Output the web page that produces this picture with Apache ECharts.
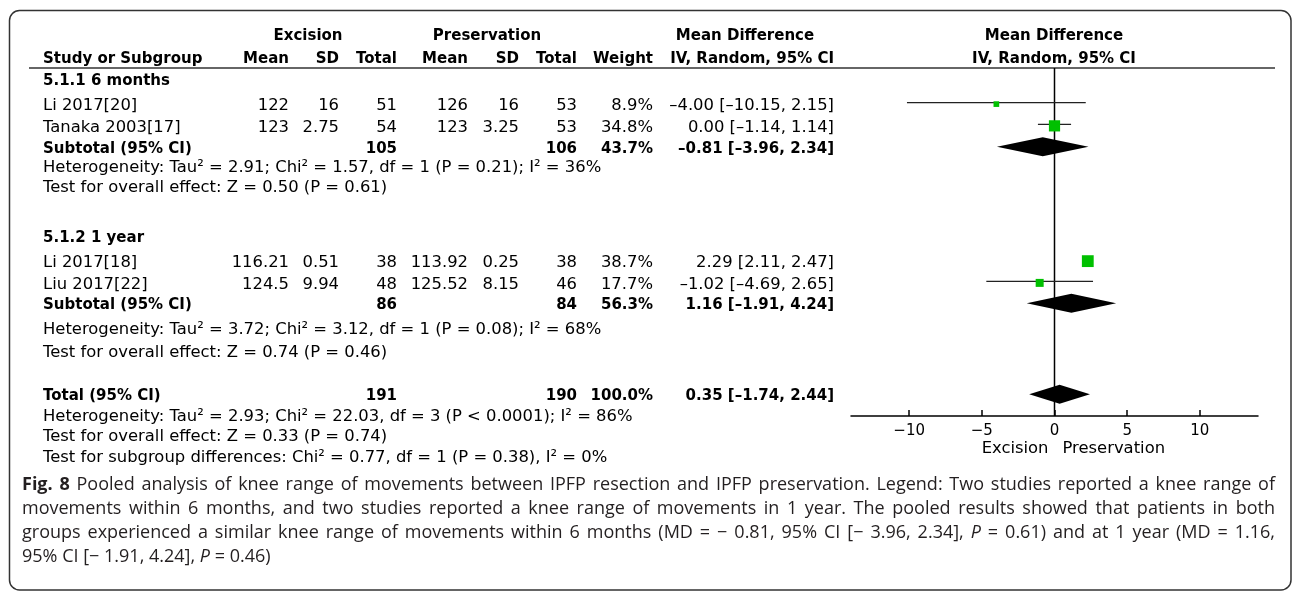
<!DOCTYPE html>
<html><head><meta charset="utf-8">
<script src="https://cdn.jsdelivr.net/npm/echarts@6/dist/echarts.min.js"></script>
<style>html,body{margin:0;padding:0;background:#fff}#c{width:1292px;height:594px}</style>
</head><body><div id="c"></div>
<script>
// ---------------- DATA ----------------
const groupTitles = ['5.1.1 6 months', '5.1.2 1 year'];
const studyNames  = ['Li 2017[20]', 'Tanaka 2003[17]', 'Li 2017[18]', 'Liu 2017[22]'];
const studyGroup  = [0, 0, 1, 1];
const excMean = [122, 123, 116.21, 124.5];
const excSD   = [16, 2.75, 0.51, 9.94];
const excN    = [51, 54, 38, 48];
const preMean = [126, 123, 113.92, 125.52];
const preSD   = [16, 3.25, 0.25, 8.15];
const preN    = [53, 53, 38, 46];
const weight  = [8.9, 34.8, 38.7, 17.7];
const md      = [-4.00, 0.00, 2.29, -1.02];
const ciLow   = [-10.15, -1.14, 2.11, -4.69];
const ciHigh  = [2.15, 1.14, 2.47, 2.65];

const subExcN   = [105, 86];
const subPreN   = [106, 84];
const subWeight = [43.7, 56.3];
const subMd     = [-0.81, 1.16];
const subLow    = [-3.96, -1.91];
const subHigh   = [2.34, 4.24];
const subHet  = ['Heterogeneity: Tau² = 2.91; Chi² = 1.57, df = 1 (P = 0.21); I² = 36%',
                 'Heterogeneity: Tau² = 3.72; Chi² = 3.12, df = 1 (P = 0.08); I² = 68%'];
const subTest = ['Test for overall effect: Z = 0.50 (P = 0.61)',
                 'Test for overall effect: Z = 0.74 (P = 0.46)'];

const totalExcN = 191, totalPreN = 190, totalWeight = 100.0;
const totalMd = 0.35, totalLow = -1.74, totalHigh = 2.44;
const totalNotes = ['Heterogeneity: Tau² = 2.93; Chi² = 22.03, df = 3 (P < 0.0001); I² = 86%',
                    'Test for overall effect: Z = 0.33 (P = 0.74)',
                    'Test for subgroup differences: Chi² = 0.77, df = 1 (P = 0.38), I² = 0%'];

const xTicks = [-10, -5, 0, 5, 10];
const xMin = -14, xMax = 14;
const favourLeft = 'Excision', favourRight = 'Preservation';

const captionLines = [
  '**Fig.** **8** Pooled analysis of knee range of movements between IPFP resection and IPFP preservation. Legend: Two studies reported a knee range of',
  'movements within 6 months, and two studies reported a knee range of movements in 1 year. The pooled results showed that patients in both',
  'groups experienced a similar knee range of movements within 6 months (MD = − 0.81, 95% CI [− 3.96, 2.34], *P* = 0.61) and at 1 year (MD = 1.16,',
  '95% CI [− 1.91, 4.24], *P* = 0.46)'
];

// ---------------- LAYOUT (row slots on the y axis) ----------------
const ROW = {
  group: [0.5, 7.75],
  study: [1.66, 2.66, 8.88, 9.88],
  sub:   [3.62, 10.82],
  het:   [4.5, 11.95],
  test:  [5.42, 13.0],
  total: 15.0,
  notes: [15.92, 16.88, 17.85]
};
const COL = {name: 43, excMean: 289, excSD: 339, excN: 397, preMean: 468, preSD: 519, preN: 577, weight: 653, ci: 834};
const FONT = 'DejaVu Sans';
const FS = 16.4, FS_B = 15, TEXT_DY = 2;
const CAP_FONT = 'Open Sans', CAP_FS = 18;

// ---------------- helpers ----------------
const sgn = v => (v < 0 ? '–' : '') + Math.abs(v).toFixed(2);
const fmtCI = (m, l, h) => sgn(m) + ' [' + sgn(l) + ', ' + sgn(h) + ']';
const fmtW = v => v.toFixed(1) + '%';

const chart = echarts.init(document.getElementById('c'), null, {renderer: 'canvas'});

const studyData = studyNames.map((_, i) => [md[i], ROW.study[i], ciLow[i], ciHigh[i], weight[i]]);
const diamondData = subMd.map((m, g) => [m, ROW.sub[g], subLow[g], subHigh[g]]);
diamondData.push([totalMd, ROW.total, totalLow, totalHigh]);

chart.setOption({
  animation: false,
  backgroundColor: '#fff',
  grid: {left: 851, right: 34, top: 68, bottom: 178, containLabel: false},
  xAxis: {
    type: 'value', min: xMin, max: xMax,
    axisLine: {onZero: false, lineStyle: {color: '#000', width: 1.5}},
    axisTick: {inside: true, length: 6, customValues: xTicks, lineStyle: {color: '#000', width: 1.5}},
    axisLabel: {customValues: xTicks, color: '#000', fontSize: 15, fontFamily: FONT, margin: 8,
      formatter: v => String(v).replace('-', '−')},
    splitLine: {show: false}
  },
  yAxis: {type: 'value', inverse: true, min: 0, max: 16, show: false},
  series: [
    {
      type: 'line', silent: true, symbol: 'none',
      data: [[0, 0], [0, 16]],
      lineStyle: {color: '#000', width: 1.5}, z: 1
    },
    {
      type: 'custom', silent: true, z: 3,
      data: studyData,
      encode: {x: [0, 2, 3], y: 1},
      renderItem: (params, api) => {
        const c = api.coord([api.value(0), api.value(1)]);
        const l = api.coord([api.value(2), api.value(1)]);
        const h = api.coord([api.value(3), api.value(1)]);
        const s = 1.9 * Math.sqrt(api.value(4));
        return {type: 'group', children: [
          {type: 'line', shape: {x1: l[0], y1: c[1] - 1.5, x2: h[0], y2: c[1] - 1.5}, style: {stroke: '#222', lineWidth: 1.2}},
          {type: 'rect', shape: {x: c[0] - s / 2, y: c[1] - s / 2, width: s, height: s}, style: {fill: '#00c000'}}
        ]};
      }
    },
    {
      type: 'custom', silent: true, z: 3,
      data: diamondData,
      encode: {x: [0, 2, 3], y: 1},
      renderItem: (params, api) => {
        const c = api.coord([api.value(0), api.value(1)]);
        const l = api.coord([api.value(2), api.value(1)]);
        const h = api.coord([api.value(3), api.value(1)]);
        const hh = 9.5;
        return {type: 'polygon', shape: {points: [[l[0], c[1]], [c[0], c[1] - hh], [h[0], c[1]], [c[0], c[1] + hh]]},
          style: {fill: '#000'}};
      }
    }
  ]
});

// ---------------- table texts & decorations ----------------
function txt(text, x, y, align, bold) {
  return {type: 'text', x: x, y: y + TEXT_DY, silent: true, z: 10,
    style: {text: text, fill: '#000', fontSize: bold ? FS_B : FS, fontFamily: FONT,
      fontWeight: bold ? 'bold' : 'normal', align: align, verticalAlign: 'middle'}};
}
const yPix = s => chart.convertToPixel({yAxisIndex: 0}, s);
const xPix = v => chart.convertToPixel({xAxisIndex: 0}, v);

const measure = document.createElement('canvas').getContext('2d');
function captionLine(line, y, justify) {
  const x0 = 22, x1 = 1275;
  const words = line.split(' ').map(w => {
    let bold = false, italic = false, t = w;
    if (/^\*\*.*\*\*$/.test(w)) { bold = true; t = w.slice(2, -2); }
    else if (/^\*.*\*$/.test(w)) { italic = true; t = w.slice(1, -1); }
    measure.font = (italic ? 'italic ' : '') + (bold ? 'bold ' : '') + CAP_FS + 'px "' + CAP_FONT + '"';
    return {t: t, bold: bold, italic: italic, w: measure.measureText(t).width};
  });
  measure.font = CAP_FS + 'px "' + CAP_FONT + '"';
  const space = measure.measureText(' ').width;
  const total = words.reduce((a, w) => a + w.w, 0);
  const gap = justify ? (x1 - x0 - total) / (words.length - 1) : space;
  let x = x0;
  return words.map(w => {
    const el = {type: 'text', x: x, y: y, silent: true, z: 10,
      style: {text: w.t, fill: '#231f20', fontSize: CAP_FS, fontFamily: CAP_FONT,
        fontWeight: w.bold ? 'bold' : 'normal', fontStyle: w.italic ? 'italic' : 'normal',
        align: 'left', verticalAlign: 'middle'}};
    x += w.w + gap;
    return el;
  });
}

const G = [];
// frame
G.push({type: 'rect', silent: true, z: 0, shape: {x: 9.5, y: 10.5, width: 1281.5, height: 579.5, r: 10},
  style: {fill: 'none', stroke: '#333', lineWidth: 1.5}});
// header rule
G.push({type: 'line', silent: true, z: 0, shape: {x1: 29, y1: 68, x2: 1275, y2: 68}, style: {stroke: '#333', lineWidth: 1.6}});

// headers
const H1 = 34, H2 = 57;
G.push(txt('Excision', 308, H1, 'center', true));
G.push(txt('Preservation', 487, H1, 'center', true));
G.push(txt('Mean Difference', 745, H1, 'center', true));
G.push(txt('Mean Difference', 1054, H1, 'center', true));
G.push(txt('Study or Subgroup', COL.name, H2, 'left', true));
G.push(txt('Mean', COL.excMean, H2, 'right', true));
G.push(txt('SD', COL.excSD, H2, 'right', true));
G.push(txt('Total', COL.excN, H2, 'right', true));
G.push(txt('Mean', COL.preMean, H2, 'right', true));
G.push(txt('SD', COL.preSD, H2, 'right', true));
G.push(txt('Total', COL.preN, H2, 'right', true));
G.push(txt('Weight', COL.weight, H2, 'right', true));
G.push(txt('IV, Random, 95% CI', COL.ci, H2, 'right', true));
G.push(txt('IV, Random, 95% CI', 1054, H2, 'center', true));

for (let g = 0; g < groupTitles.length; g++) {
  G.push(txt(groupTitles[g], COL.name, yPix(ROW.group[g]), 'left', true));
  studyNames.forEach((n, i) => {
    if (studyGroup[i] !== g) return;
    const y = yPix(ROW.study[i]);
    G.push(txt(n, COL.name, y, 'left'));
    G.push(txt(String(excMean[i]), COL.excMean, y, 'right'));
    G.push(txt(String(excSD[i]), COL.excSD, y, 'right'));
    G.push(txt(String(excN[i]), COL.excN, y, 'right'));
    G.push(txt(String(preMean[i]), COL.preMean, y, 'right'));
    G.push(txt(String(preSD[i]), COL.preSD, y, 'right'));
    G.push(txt(String(preN[i]), COL.preN, y, 'right'));
    G.push(txt(fmtW(weight[i]), COL.weight, y, 'right'));
    G.push(txt(fmtCI(md[i], ciLow[i], ciHigh[i]), COL.ci, y, 'right'));
  });
  const ys = yPix(ROW.sub[g]);
  G.push(txt('Subtotal (95% CI)', COL.name, ys, 'left', true));
  G.push(txt(String(subExcN[g]), COL.excN, ys, 'right', true));
  G.push(txt(String(subPreN[g]), COL.preN, ys, 'right', true));
  G.push(txt(fmtW(subWeight[g]), COL.weight, ys, 'right', true));
  G.push(txt(fmtCI(subMd[g], subLow[g], subHigh[g]), COL.ci, ys, 'right', true));
  G.push(txt(subHet[g], COL.name, yPix(ROW.het[g]), 'left'));
  G.push(txt(subTest[g], COL.name, yPix(ROW.test[g]), 'left'));
}
const yt = yPix(ROW.total);
G.push(txt('Total (95% CI)', COL.name, yt, 'left', true));
G.push(txt(String(totalExcN), COL.excN, yt, 'right', true));
G.push(txt(String(totalPreN), COL.preN, yt, 'right', true));
G.push(txt(fmtW(totalWeight), COL.weight, yt, 'right', true));
G.push(txt(fmtCI(totalMd, totalLow, totalHigh), COL.ci, yt, 'right', true));
totalNotes.forEach((t, k) => G.push(txt(t, COL.name, yPix(ROW.notes[k]), 'left')));

// favours labels
const x0 = xPix(0);
G.push(txt(favourLeft, x0 - 6, 447, 'right'));
G.push(txt(favourRight, x0 + 8, 447, 'left'));

// caption
const capY = [485, 509, 533, 557];
captionLines.forEach((l, k) => { G.push.apply(G, captionLine(l, capY[k], k < captionLines.length - 1)); });

chart.setOption({graphic: G});
</script>
</body></html>
